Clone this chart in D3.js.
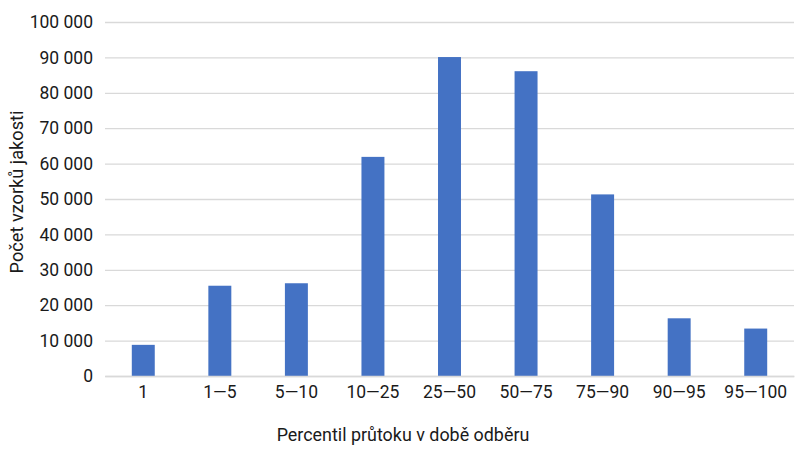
<!DOCTYPE html>
<html>
  <head>
    <meta charset="UTF-8">
    <title>Percentil průtoku</title>
    <script src="https://d3js.org/d3.v7.min.js"></script>
    <style>
      body { margin: 0; background: #fff; }
      text { font-family: Roboto, "Liberation Sans", sans-serif; fill: #1a1a1a; }
    </style>
  </head>

  <body>
    <div class="chart"></div>

    <script type="application/javascript">
      const categories = ["1", "1\u20145", "5\u201410", "10\u201425", "25\u201450", "50\u201475", "75\u201490", "90\u201495", "95\u2014100"];
      const counts = [8800, 25500, 26200, 61900, 90100, 86100, 51300, 16300, 13400];
      const yTicks = [0, 10000, 20000, 30000, 40000, 50000, 60000, 70000, 80000, 90000, 100000];

      const width = 800, height = 449;
      const margin = {top: 22, right: 6, bottom: 73, left: 105};

      const svg = d3.select(".chart").append("svg")
              .attr("width", width)
              .attr("height", height)

      const x = d3.scaleBand()
              .domain(categories)
              .range([margin.left, width - margin.right])
              .paddingInner(0.7)
              .paddingOuter(0.35);

      const y = d3.scaleLinear()
              .domain([0, 100000])
              .range([height - margin.bottom, margin.top]);

      const fmt = v => d3.format(",")(v).replace(/,/g, " ");

      // gridlines + tick labels
      const yAxis = d3.axisLeft(y)
              .tickValues(yTicks)
              .tickFormat(fmt)
              .tickSize(-(width - margin.left - margin.right))
              .tickPadding(12);
      const yg = svg.append("g")
              .attr("transform", `translate(${margin.left}, 0)`)
              .call(yAxis);
      yg.select(".domain").remove();
      yg.selectAll(".tick line").attr("stroke", "#d9d9d9").attr("stroke-width", 1.3);
      yg.selectAll(".tick text").attr("font-size", 17.5);

      svg.append("g")
              .selectAll("rect")
              .data(counts)
              .join("rect")
              .attr("x", (d, i) => x(categories[i]))
              .attr("width", x.bandwidth())
              .attr("y", d => y(d))
              .attr("height", d => y(0) - y(d))
              .attr("fill", "#4472c4");

      const xAxis = d3.axisBottom(x).tickSize(0).tickPadding(10);
      const xg = svg.append("g")
              .attr("transform", `translate(0, ${y(0)})`)
              .call(xAxis);
      xg.select(".domain").attr("stroke", "#d9d9d9").attr("stroke-width", 1.3);
      xg.selectAll(".tick text").attr("font-size", 17.5);

      svg.append("text")
              .attr("x", 403)
              .attr("y", 441)
              .attr("text-anchor", "middle")
              .attr("font-size", 17.9)
              .text("Percentil průtoku v době odběru");

      svg.append("text")
              .attr("transform", `translate(23, 192) rotate(-90)`)
              .attr("text-anchor", "middle")
              .attr("font-size", 18.2)
              .text("Počet vzorků jakosti");
    </script>
  </body>

</html>
